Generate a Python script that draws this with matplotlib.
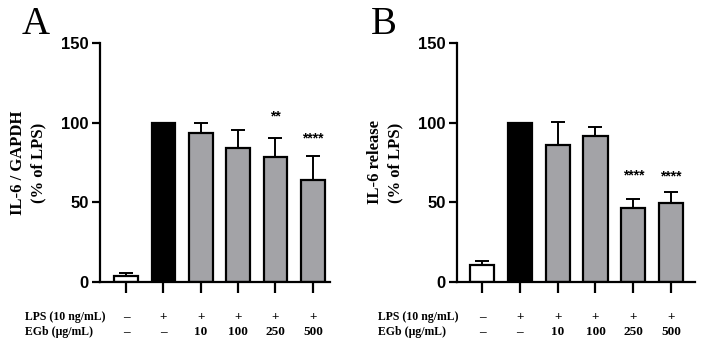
import matplotlib
matplotlib.use("Agg")
import matplotlib.pyplot as plt
from matplotlib.transforms import blended_transform_factory

# data
lps_row = ["\u2013", "+", "+", "+", "+", "+"]
egb_row = ["\u2013", "\u2013", "10", "100", "250", "500"]
colors = ["white", "black", "#a3a3a7", "#a3a3a7", "#a3a3a7", "#a3a3a7"]

a_values = [3.8, 100, 93.7, 84, 78.5, 63.8]
a_err = [2.0, 0, 6.0, 11.5, 12.0, 15.5]
a_stars = {4: ("**", 104), 5: ("****", 90)}

b_values = [10.5, 100, 86, 91.5, 46.5, 49.5]
b_err = [2.8, 0, 14.5, 6.0, 5.5, 6.8]
b_stars = {4: ("****", 67), 5: ("****", 66)}

W, H = 701, 344
fig = plt.figure(figsize=(W / 100, H / 100), dpi=100)

SERIF = "Liberation Serif"
SANS = "Liberation Sans"


def panel(left, right, xlim, values, err, stars, ylabel, letter, letter_x, row_x):
    ax = fig.add_axes([left / W, 1 - 282 / H, (right - left) / W, (282 - 43) / H])
    x = list(range(len(values)))
    ax.bar(x, values, width=0.64, color=colors, edgecolor="black", linewidth=1.6, zorder=2)
    ax.errorbar(x, values, yerr=[[0] * len(err), err], fmt="none", ecolor="black",
                elinewidth=1.4, capsize=5, capthick=1.4, zorder=1)
    for i, (s, yv) in stars.items():
        ax.text(i, yv, s, ha="center", va="center", fontsize=10, fontweight="bold",
                family=SANS)
    ax.set_xlim(*xlim)
    ax.set_ylim(0, 150)
    ax.set_yticks([0, 50, 100, 150])
    ax.set_xticks(x)
    ax.set_xticklabels([])
    for s in ["top", "right"]:
        ax.spines[s].set_visible(False)
    for s in ["left", "bottom"]:
        ax.spines[s].set_linewidth(1.6)
    ax.tick_params(axis="y", length=6, width=1.6, pad=2)
    ax.tick_params(axis="x", length=8, width=1.6)
    for lab in ax.get_yticklabels():
        lab.set_fontweight("bold")
        lab.set_family(SANS)
        lab.set_fontsize(12)
    ax.set_ylabel(ylabel, family=SERIF, fontweight="bold", fontsize=12, labelpad=11,
                  linespacing=1.3)
    fig.text(letter_x / W, 1 - 24 / H, letter, family=SERIF, fontsize=28,
             ha="left", va="center")
    trans = blended_transform_factory(ax.transData, fig.transFigure)
    y1, y2 = 1 - 317 / H, 1 - 332 / H
    fig.text(row_x / W, y1, "LPS (10 ng/mL)", family=SERIF, fontweight="bold",
             fontsize=8.5, ha="left", va="center")
    fig.text(row_x / W, y2, "EGb (\u00b5g/mL)", family=SERIF, fontweight="bold",
             fontsize=8.5, ha="left", va="center")
    for i in x:
        ax.text(i, y1, lps_row[i], transform=trans, family=SERIF, fontweight="bold",
                fontsize=9.5, ha="center", va="center")
        ax.text(i, y2, egb_row[i], transform=trans, family=SERIF, fontweight="bold",
                fontsize=9.5, ha="center", va="center")
    return ax


panel(100, 330, (-0.7, 5.46), a_values, a_err, a_stars,
      "IL-6 / GAPDH\n(% of LPS)", "A", 22, 25)
panel(457, 695, (-0.66, 5.63), b_values, b_err, b_stars,
      "IL-6 release\n(% of LPS)", "B", 371, 378)

fig.savefig("out.png", dpi=100)
